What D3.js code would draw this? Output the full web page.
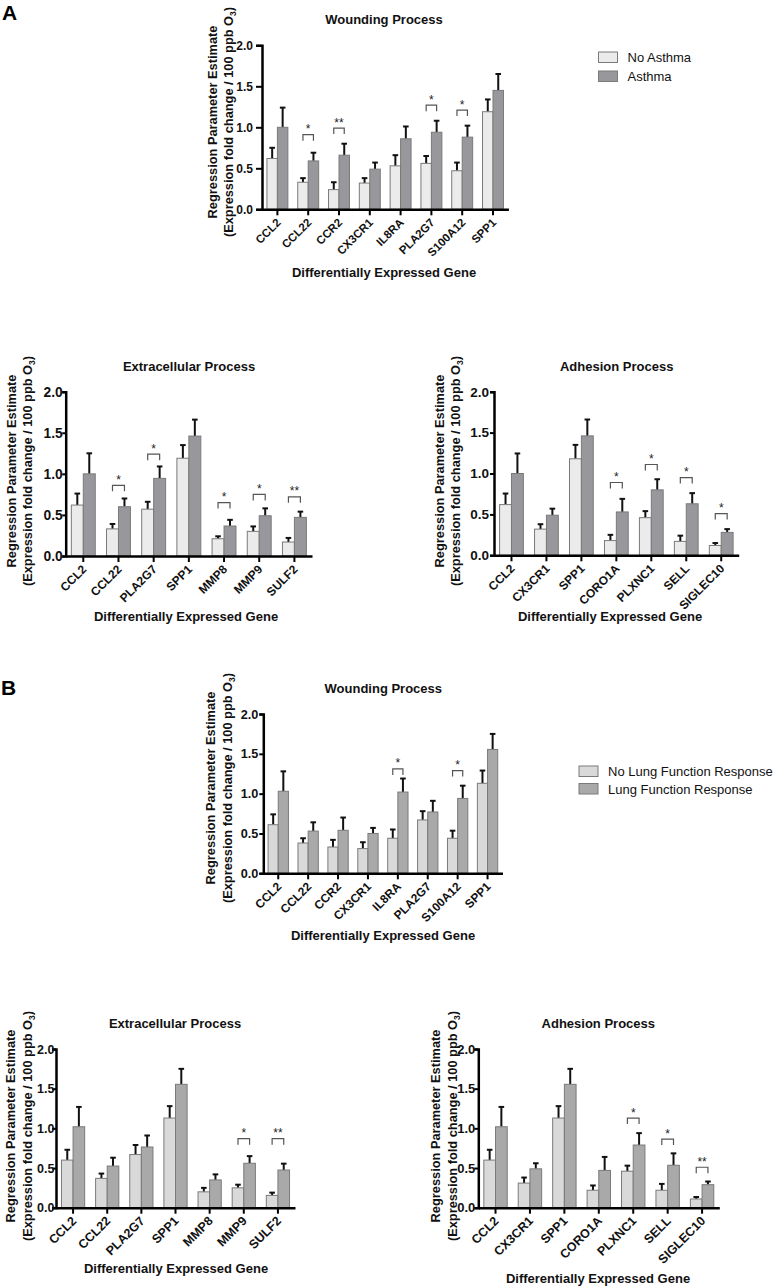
<!DOCTYPE html>
<html>
<head>
<meta charset="utf-8">
<script src="https://cdn.jsdelivr.net/npm/d3@7"></script>
<style>
  html, body { margin: 0; padding: 0; background: #fff; }
  svg { display: block; font-family: "Liberation Sans", Arial, sans-serif; }
</style>
</head>
<body>
<svg id="chart" width="774" height="1287"></svg>
<script>
// ---------------- DATA ----------------
const yTicks = [0, 0.5, 1.0, 1.5, 2.0];

// Panel A – Wounding Process (No Asthma vs Asthma)
const aWoundGenes   = ["CCL2","CCL22","CCR2","CX3CR1","IL8RA","PLA2G7","S100A12","SPP1"];
const aWoundLow     = [0.62, 0.33, 0.24, 0.32, 0.53, 0.56, 0.47, 1.19];
const aWoundLowErr  = [0.75, 0.38, 0.33, 0.38, 0.66, 0.65, 0.57, 1.34];
const aWoundHigh    = [1.00, 0.59, 0.66, 0.49, 0.86, 0.94, 0.88, 1.45];
const aWoundHighErr = [1.24, 0.69, 0.80, 0.57, 1.01, 1.08, 1.02, 1.65];
const aWoundSig     = [["CCL22","*",0.91],["CCR2","**",0.99],["PLA2G7","*",1.27],["S100A12","*",1.21]];

// Panel A – Extracellular Process
const aExtraGenes   = ["CCL2","CCL22","PLA2G7","SPP1","MMP8","MMP9","SULF2"];
const aExtraLow     = [0.62, 0.33, 0.57, 1.19, 0.21, 0.30, 0.17];
const aExtraLowErr  = [0.76, 0.39, 0.66, 1.35, 0.24, 0.36, 0.22];
const aExtraHigh    = [1.00, 0.60, 0.945, 1.46, 0.365, 0.49, 0.47];
const aExtraHighErr = [1.25, 0.70, 1.09, 1.66, 0.44, 0.58, 0.54];
const aExtraSig     = [["CCL22","*",0.86],["PLA2G7","*",1.24],["MMP8","*",0.65],["MMP9","*",0.75],["SULF2","**",0.72]];

// Panel A – Adhesion Process
const aAdhGenes     = ["CCL2","CX3CR1","SPP1","CORO1A","PLXNC1","SELL","SIGLEC10"];
const aAdhLow       = [0.62, 0.32, 1.18, 0.18, 0.46, 0.17, 0.12];
const aAdhLowErr    = [0.755, 0.38, 1.35, 0.25, 0.54, 0.24, 0.15];
const aAdhHigh      = [1.00, 0.49, 1.46, 0.53, 0.80, 0.63, 0.28];
const aAdhHighErr   = [1.245, 0.57, 1.66, 0.69, 0.93, 0.76, 0.32];
const aAdhSig       = [["CORO1A","*",0.89],["PLXNC1","*",1.11],["SELL","*",0.95],["SIGLEC10","*",0.51]];

// Panel B – Wounding Process (No Lung Function Response vs Lung Function Response)
const bWoundGenes   = ["CCL2","CCL22","CCR2","CX3CR1","IL8RA","PLA2G7","S100A12","SPP1"];
const bWoundLow     = [0.61, 0.38, 0.33, 0.31, 0.44, 0.67, 0.44, 1.13];
const bWoundLowErr  = [0.74, 0.44, 0.42, 0.39, 0.55, 0.78, 0.535, 1.29];
const bWoundHigh    = [1.03, 0.53, 0.54, 0.50, 1.02, 0.77, 0.94, 1.555];
const bWoundHighErr = [1.28, 0.64, 0.70, 0.57, 1.19, 0.91, 1.10, 1.75];
const bWoundSig     = [["IL8RA","*",1.31],["S100A12","*",1.29]];

// Panel B – Extracellular Process
const bExtraGenes   = ["CCL2","CCL22","PLA2G7","SPP1","MMP8","MMP9","SULF2"];
const bExtraLow     = [0.60, 0.37, 0.67, 1.13, 0.20, 0.25, 0.155];
const bExtraLowErr  = [0.73, 0.43, 0.79, 1.28, 0.25, 0.29, 0.19];
const bExtraHigh    = [1.02, 0.525, 0.765, 1.555, 0.35, 0.56, 0.475];
const bExtraHighErr = [1.27, 0.63, 0.91, 1.75, 0.42, 0.65, 0.555];
const bExtraSig     = [["MMP9","*",0.87],["SULF2","**",0.87]];

// Panel B – Adhesion Process
const bAdhGenes     = ["CCL2","CX3CR1","SPP1","CORO1A","PLXNC1","SELL","SIGLEC10"];
const bAdhLow       = [0.60, 0.31, 1.13, 0.22, 0.46, 0.22, 0.11];
const bAdhLowErr    = [0.73, 0.38, 1.28, 0.28, 0.53, 0.30, 0.135];
const bAdhHigh      = [1.02, 0.49, 1.555, 0.47, 0.79, 0.535, 0.29];
const bAdhHighErr   = [1.27, 0.56, 1.75, 0.64, 0.94, 0.685, 0.33];
const bAdhSig       = [["PLXNC1","*",1.13],["SELL","*",0.865],["SIGLEC10","**",0.51]];

const aLegend = ["No Asthma", "Asthma"];
const bLegend = ["No Lung Function Response", "Lung Function Response"];
const xAxisTitle = "Differentially Expressed Gene";
const yTitle1 = "Regression Parameter Estimate";
const yTitle2 = "(Expression fold change / 100 ppb O";

// ---------------- DRAWING ----------------
const svg = d3.select("#chart");
const colA = { low: "#ebebeb", high: "#98989c" };
const colB = { low: "#d9d9d9", high: "#a9a9a9" };
const FONT = "Liberation Sans, Arial, sans-serif";

function drawPanel(p) {
  const g = svg.append("g");
  const x = d3.scaleBand().domain(p.genes).range([p.x0, p.x1]).paddingInner(0.32).paddingOuter(0.16);
  const sub = d3.scaleBand().domain(["low","high"]).range([0, x.bandwidth()]);
  const y = d3.scaleLinear().domain([0, 2]).range([p.yBot, p.yTop]);

  const rows = p.genes.map((gname, i) => ({
    gene: gname, low: p.low[i], lowErr: p.lowErr[i], high: p.high[i], highErr: p.highErr[i]
  }));

  // error bars (behind bars)
  ["low","high"].forEach(k => {
    const eg = g.append("g");
    rows.forEach(r => {
      const cx = x(r.gene) + sub(k) + sub.bandwidth() / 2;
      eg.append("line").attr("x1", cx).attr("x2", cx)
        .attr("y1", y(r[k])).attr("y2", y(r[k + "Err"]))
        .attr("stroke", "#111").attr("stroke-width", 2);
      eg.append("line").attr("x1", cx - 2.8).attr("x2", cx + 2.8)
        .attr("y1", y(r[k + "Err"])).attr("y2", y(r[k + "Err"]))
        .attr("stroke", "#111").attr("stroke-width", 2);
    });
  });

  // bars
  ["low","high"].forEach(k => {
    g.append("g").selectAll("rect").data(rows).join("rect")
      .attr("x", d => x(d.gene) + sub(k))
      .attr("y", d => y(d[k]))
      .attr("width", sub.bandwidth())
      .attr("height", d => y(0) - y(d[k]))
      .attr("fill", p.colors[k])
      .attr("stroke", "#7a7a7a")
      .attr("stroke-width", 1);
  });

  // significance brackets
  p.sig.forEach(([gname, label, level]) => {
    const xl = x(gname) + sub("low") + sub.bandwidth() / 2;
    const xh = x(gname) + sub("high") + sub.bandwidth() / 2;
    const yy = y(level);
    g.append("path")
      .attr("d", `M${xl},${yy + 6}V${yy}H${xh}V${yy + 6}`)
      .attr("fill", "none").attr("stroke", "#555").attr("stroke-width", 1.2);
    g.append("text").attr("x", (xl + xh) / 2).attr("y", yy - 1.5)
      .attr("text-anchor", "middle").attr("font-size", 12).attr("fill", "#222")
      .text(label);
  });

  // y axis
  const yAx = g.append("g").attr("transform", `translate(${p.x0},0)`)
    .call(d3.axisLeft(y).tickValues(yTicks).tickFormat(d3.format(".1f")).tickSize(p.tickLen).tickPadding(p.tickPad));
  yAx.select(".domain").attr("stroke", "#000").attr("stroke-width", 2.5);
  yAx.selectAll(".tick line").attr("stroke", "#000").attr("stroke-width", 2);
  yAx.selectAll(".tick text").attr("font-size", p.tickFont).attr("font-weight", "bold").attr("fill", "#111")
    .attr("font-family", FONT);

  // x axis
  const xAx = g.append("g").attr("transform", `translate(0,${p.yBot})`)
    .call(d3.axisBottom(x).tickSize(6).tickSizeOuter(0));
  xAx.select(".domain").attr("stroke", "#000").attr("stroke-width", 2.5);
  xAx.selectAll(".tick line").attr("stroke", "#000").attr("stroke-width", 2);
  xAx.selectAll(".tick text")
    .attr("font-size", p.xFont).attr("font-weight", "bold").attr("fill", "#111")
    .attr("font-family", FONT)
    .attr("text-anchor", "end").attr("dy", null).attr("y", null)
    .attr("transform", "translate(4,14) rotate(-45)");

  // title
  g.append("text").attr("x", p.titleX).attr("y", p.titleY)
    .attr("text-anchor", "middle").attr("font-size", 13).attr("font-weight", "bold").attr("fill", "#111")
    .text(p.title);

  // x-axis title
  g.append("text").attr("x", p.xTitleX).attr("y", p.xTitleY)
    .attr("text-anchor", "middle").attr("font-size", 13).attr("font-weight", "bold").attr("fill", "#111")
    .text(xAxisTitle);

  // y-axis title (two lines)
  const cy = p.yTitleCy;
  g.append("text").attr("transform", `translate(${p.yl1},${cy}) rotate(-90)`)
    .attr("text-anchor", "middle").attr("font-size", 12.8).attr("font-weight", "bold").attr("fill", "#111")
    .text(yTitle1);
  const t2 = g.append("text").attr("transform", `translate(${p.yl2},${cy}) rotate(-90)`)
    .attr("text-anchor", "middle").attr("font-size", 12.8).attr("font-weight", "bold").attr("fill", "#111");
  t2.append("tspan").text(yTitle2);
  t2.append("tspan").attr("font-size", 8.5).attr("dy", 3).text("3");
  t2.append("tspan").attr("dy", -3).text(")");
}

function drawLegend(x0, y0, labels, colors, gap) {
  const g = svg.append("g");
  labels.forEach((lab, i) => {
    const yy = y0 + i * gap;
    g.append("rect").attr("x", x0).attr("y", yy).attr("width", 19).attr("height", 10.5)
      .attr("fill", i === 0 ? colors.low : colors.high).attr("stroke", "#7a7a7a").attr("stroke-width", 1);
    g.append("text").attr("x", x0 + 29).attr("y", yy + 10).attr("font-size", 13).attr("fill", "#111")
      .text(lab);
  });
}

// Panel letters
svg.append("text").attr("x", 2).attr("y", 20).attr("font-size", 21).attr("font-weight", "bold").text("A");
svg.append("text").attr("x", 1).attr("y", 695).attr("font-size", 21).attr("font-weight", "bold").text("B");

drawPanel({ genes: aWoundGenes, low: aWoundLow, lowErr: aWoundLowErr, high: aWoundHigh, highErr: aWoundHighErr,
  sig: aWoundSig, colors: colA, x0: 262, x1: 508.4, yTop: 45.3, yBot: 209.3,
  tickLen: 6, tickPad: 3, tickFont: 12, xFont: 11.5,
  title: "Wounding Process", titleX: 384, titleY: 24, xTitleX: 384, xTitleY: 277,
  yl1: 216.5, yl2: 232.5, yTitleCy: 122 });

drawPanel({ genes: aExtraGenes, low: aExtraLow, lowErr: aExtraLowErr, high: aExtraHigh, highErr: aExtraHighErr,
  sig: aExtraSig, colors: colA, x0: 65.7, x1: 312, yTop: 391.7, yBot: 556,
  tickLen: 3.5, tickPad: -0.5, tickFont: 13.8, xFont: 12,
  title: "Extracellular Process", titleX: 189, titleY: 370.7, xTitleX: 186, xTitleY: 621,
  yl1: 15.5, yl2: 32, yTitleCy: 471 });

drawPanel({ genes: aAdhGenes, low: aAdhLow, lowErr: aAdhLowErr, high: aAdhHigh, highErr: aAdhHighErr,
  sig: aAdhSig, colors: colA, x0: 494, x1: 738.7, yTop: 391.7, yBot: 555.3,
  tickLen: 4, tickPad: 1, tickFont: 13.5, xFont: 12,
  title: "Adhesion Process", titleX: 616.7, titleY: 370.7, xTitleX: 610, xTitleY: 621,
  yl1: 443.5, yl2: 460, yTitleCy: 471 });

drawPanel({ genes: bWoundGenes, low: bWoundLow, lowErr: bWoundLowErr, high: bWoundHigh, highErr: bWoundHighErr,
  sig: bWoundSig, colors: colB, x0: 263.3, x1: 502.5, yTop: 714, yBot: 873.3,
  tickLen: 4, tickPad: 1, tickFont: 12.7, xFont: 12,
  title: "Wounding Process", titleX: 383.3, titleY: 693.3, xTitleX: 383, xTitleY: 940,
  yl1: 215, yl2: 232, yTitleCy: 788 });

drawPanel({ genes: bExtraGenes, low: bExtraLow, lowErr: bExtraLowErr, high: bExtraHigh, highErr: bExtraHighErr,
  sig: bExtraSig, colors: colB, x0: 56, x1: 295, yTop: 1049, yBot: 1207.7,
  tickLen: 4, tickPad: -2.5, tickFont: 12.5, xFont: 12.5,
  title: "Extracellular Process", titleX: 175, titleY: 1028.3, xTitleX: 176, xTitleY: 1273.3,
  yl1: 15, yl2: 32, yTitleCy: 1126 });

drawPanel({ genes: bAdhGenes, low: bAdhLow, lowErr: bAdhLowErr, high: bAdhHigh, highErr: bAdhHighErr,
  sig: bAdhSig, colors: colB, x0: 478.3, x1: 719.3, yTop: 1049, yBot: 1207.7,
  tickLen: 4, tickPad: -1, tickFont: 13, xFont: 12.5,
  title: "Adhesion Process", titleX: 598.3, titleY: 1028.3, xTitleX: 598, xTitleY: 1283.3,
  yl1: 440, yl2: 456.7, yTitleCy: 1126 });

drawLegend(598.5, 52, aLegend, colA, 19);
drawLegend(579, 766, bLegend, colB, 17.5);
</script>
</body>
</html>
